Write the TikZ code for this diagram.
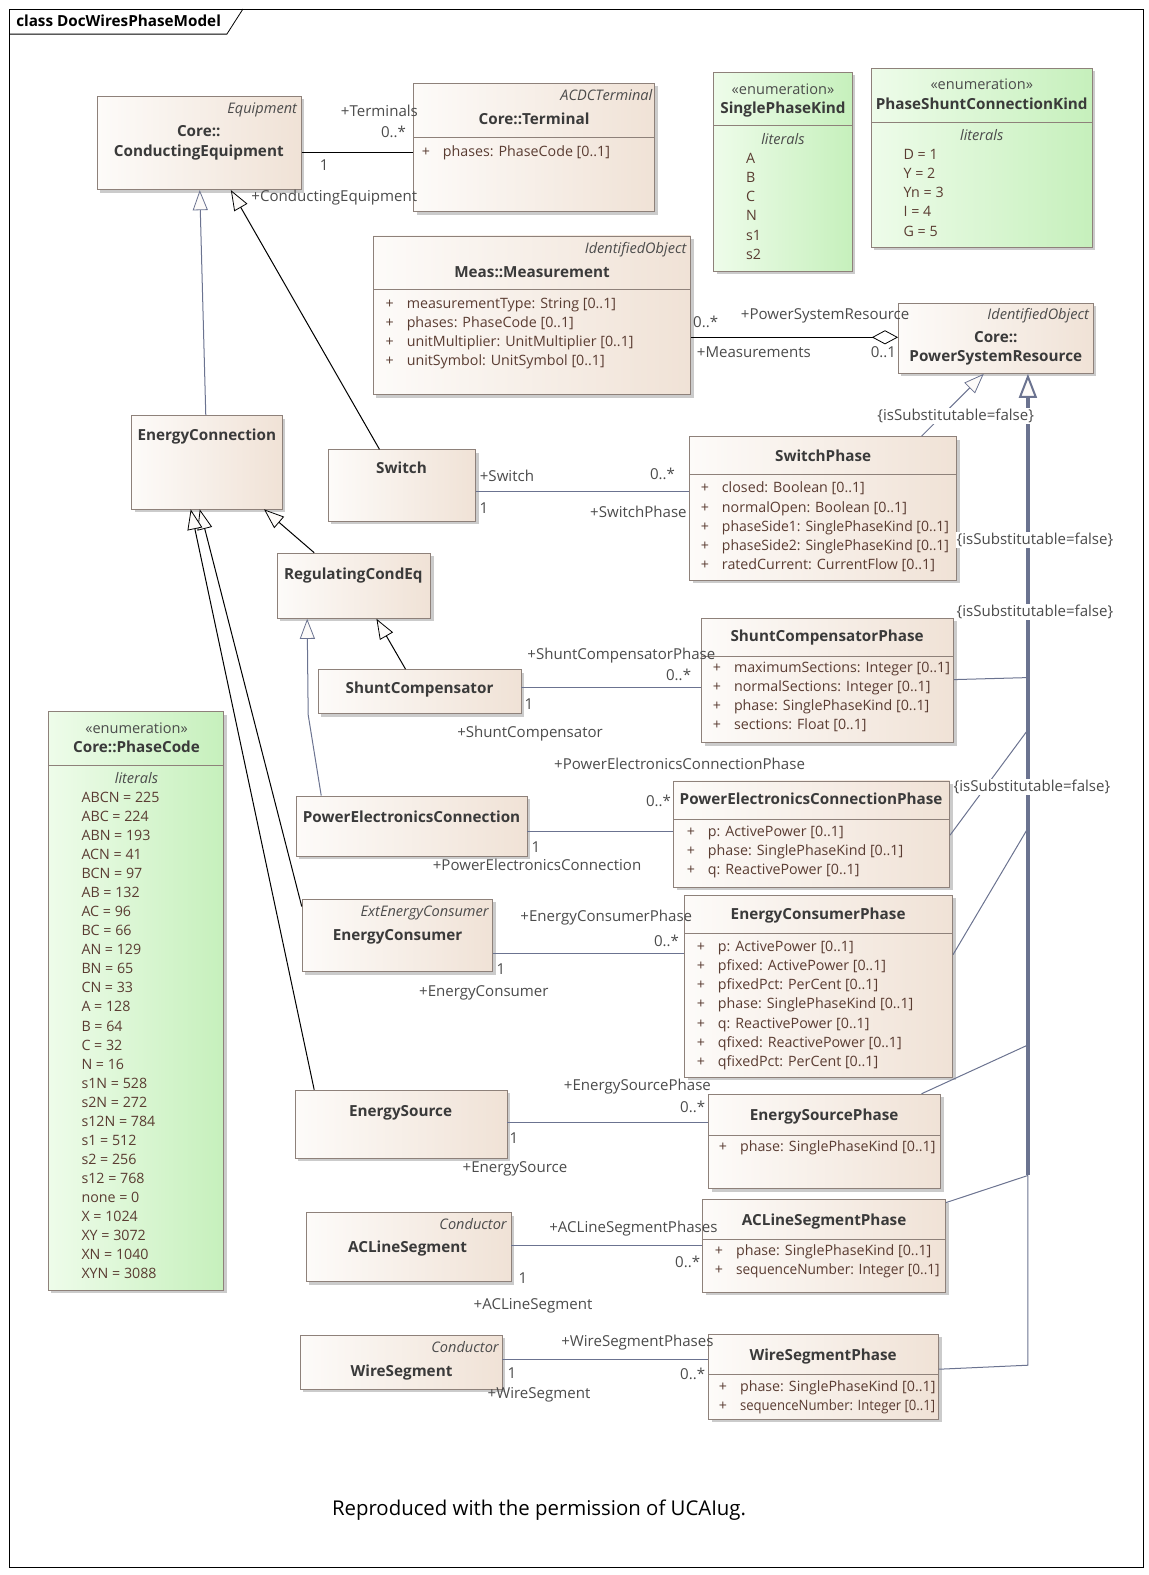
\documentclass[tikz,border=0pt]{standalone}
\usepackage{fontspec}
\setmainfont{Open Sans}
\usetikzlibrary{fit,shadows,arrows.meta}

\definecolor{clsleft}{HTML}{FDFBF9}
\definecolor{clsright}{HTML}{F0E2D6}
\definecolor{clsline}{HTML}{8E817A}
\definecolor{enumleft}{HTML}{EEFCEA}
\definecolor{enumright}{HTML}{C6F0BC}
\definecolor{nametext}{HTML}{3A3A3A}
\definecolor{attrtext}{HTML}{5A3C32}
\definecolor{roletext}{HTML}{4B4B4B}
\definecolor{wire}{HTML}{6B7390}

\tikzset{
  cls/.style={draw=clsline, line width=0.8pt, left color=clsleft, right color=clsright, inner sep=0pt,
    drop shadow={shadow xshift=3pt, shadow yshift=-3pt, fill=black!45, opacity=0.45}},
  enum/.style={cls, left color=enumleft, right color=enumright},
  cname/.style={font=\bfseries\fontsize{15.2}{18}\selectfont, text=nametext, inner sep=0pt, anchor=base, yshift=-0.7pt},
  stereo/.style={font=\itshape\fontsize{14.5}{17}\selectfont, text=roletext, inner sep=0pt, anchor=base east, yshift=-0.7pt},
  estereo/.style={font=\fontsize{14.5}{17}\selectfont, text=roletext, inner sep=0pt, anchor=base, yshift=-0.7pt},
  litlabel/.style={font=\itshape\fontsize{14.5}{17}\selectfont, text=roletext, inner sep=0pt, anchor=base, yshift=-0.7pt},
  attr/.style={font=\fontsize{14.2}{17}\selectfont, text=attrtext, inner sep=0pt, anchor=base west, yshift=-0.6pt},
  role/.style={font=\fontsize{15}{17}\selectfont, text=roletext, inner sep=0pt, anchor=base, yshift=-0.7pt},
  constraint/.style={role, fill=white, inner sep=1pt},
  sepline/.style={draw=clsline, line width=0.8pt},
  assoc/.style={draw=wire, line width=1pt},
  gen/.style={draw=#1, line width=1pt, -{Triangle[length=20pt, width=15pt, fill=clsleft, line width=0.8pt]}},
  gen/.default=black,
}

% attribute rows of a class, 19px apart
\newcommand{\classattrs}[4]{%
  \foreach \t [count=\i from 0] in {#4}
    \node[attr] (#1-a\i) at (#2, {#3+4.5+19*\i}) {\makebox[21pt][l]{+}\t};}
% literal rows of an enumeration
\newcommand{\enumlits}[4]{%
  \foreach \t [count=\i from 0] in {#4}
    \node[attr] (#1-l\i) at (#2, {#3+4.5+19*\i}) {\t};}
% squeezed text, as the tool draws long rows
\newcommand{\narrow}[2]{\scalebox{#1}[1]{#2}}

\begin{document}
\begin{tikzpicture}[x=1pt, y=-1pt]
\useasboundingbox (0,0) rectangle (1144.5,1569);

% frame
\draw[line width=0.8pt] (9,9) rectangle (1139,1561);
\draw[line width=0.8pt] (9,34) -- (226,34) -- (242,9);
\node[font=\bfseries\fontsize{15.2}{18}\selectfont, anchor=base west, inner sep=0pt] (title) at (16,26) {class DocWiresPhaseModel};

% classes
\node[cls, fit={(97,96) (300,189)}] (ce) {};
\node[stereo] (ce-st) at (296,112.5) {Equipment};
\node[cname] (ce-n1) at (198,135.5) {Core::};
\node[cname] (ce-n2) at (198,155.5) {ConductingEquipment};

\node[cls, fit={(412,83) (652,211)}] (term) {};
\node[stereo] (term-st) at (650,99.5) {ACDCTerminal};
\node[cname] (term-n) at (532,123.5) {Core::Terminal};
\draw[sepline] (term.west |- 0,137) -- (term.east |- 0,137);
\classattrs{term}{420}{151}{phases: PhaseCode [0..1]}

\node[enum, fit={(711,72) (849,270)}] (spk) {};
\node[estereo] (spk-st) at (780,93.5) {«enumeration»};
\node[cname] (spk-n) at (780,112.5) {SinglePhaseKind};
\draw[sepline] (spk.west |- 0,125) -- (spk.east |- 0,125);
\node[litlabel] (spk-lt) at (780,143.5) {literals};
\enumlits{spk}{743}{158}{A,B,C,N,s1,s2}

\node[enum, fit={(868,68) (1088,246)}] (psck) {};
\node[estereo] (psck-st) at (978,88.5) {«enumeration»};
\node[cname] (psck-n) at (978,108.5) {PhaseShuntConnectionKind};
\draw[sepline] (psck.west |- 0,122) -- (psck.east |- 0,122);
\node[litlabel] (psck-lt) at (978,139.5) {literals};
\enumlits{psck}{900}{154}{D = 1,Y = 2,Yn = 3,I = 4,G = 5}

\node[cls, fit={(372,235) (688,393)}] (meas) {};
\node[stereo] (meas-st) at (684,251.5) {IdentifiedObject};
\node[cname] (meas-n) at (530,275.5) {Meas::Measurement};
\draw[sepline] (meas.west |- 0,288) -- (meas.east |- 0,288);
\classattrs{meas}{384}{302}{measurementType: String [0..1],phases: PhaseCode [0..1],unitMultiplier: UnitMultiplier [0..1],unitSymbol: UnitSymbol [0..1]}

\node[cls, fit={(895,302) (1089,372)}] (psr) {};
\node[stereo] (psr-st) at (1085,317.5) {IdentifiedObject};
\node[cname] (psr-n1) at (992,340.5) {Core::};
\node[cname] (psr-n2) at (992,359.5) {PowerSystemResource};

\node[cls, fit={(131,414) (281,507)}] (econn) {};
\node[cname] (econn-n) at (206,438.5) {EnergyConnection};

\node[cls, fit={(327,448) (474,519)}] (sw) {};
\node[cname] (sw-n) at (400,470.5) {Switch};

\node[cls, fit={(687,435) (953,578)}] (swp) {};
\node[cname] (swp-n) at (820,459.5) {SwitchPhase};
\draw[sepline] (swp.west |- 0,473) -- (swp.east |- 0,473);
\classattrs{swp}{698}{486}{closed: Boolean [0..1],normalOpen: Boolean [0..1],\narrow{0.98}{phaseSide1: SinglePhaseKind [0..1]},\narrow{0.98}{phaseSide2: SinglePhaseKind [0..1]},ratedCurrent: CurrentFlow [0..1]}

\node[cls, fit={(276,551) (429,616)}] (rce) {};
\node[cname] (rce-n) at (352,576.5) {RegulatingCondEq};

\node[cls, fit={(317,667) (519,711)}] (shc) {};
\node[cname] (shc-n) at (418,690.5) {ShuntCompensator};

\node[cls, fit={(699,616) (950,740)}] (shcp) {};
\node[cname] (shcp-n) at (824,638.5) {ShuntCompensatorPhase};
\draw[sepline] (shcp.west |- 0,654) -- (shcp.east |- 0,654);
\classattrs{shcp}{710}{665}{maximumSections: Integer [0..1],normalSections: Integer [0..1],phase: SinglePhaseKind [0..1],sections: Float [0..1]}

\node[enum, fit={(48,709) (223,1285)}] (pc) {};
\node[estereo] (pc-st) at (136,729.5) {«enumeration»};
\node[cname] (pc-n) at (136,748.5) {Core::PhaseCode};
\draw[sepline] (pc.west |- 0,762) -- (pc.east |- 0,762);
\node[litlabel] (pc-lt) at (136,779.5) {literals};
\enumlits{pc}{81}{794}{ABCN = 225,ABC = 224,ABN = 193,ACN = 41,BCN = 97,AB = 132,AC = 96,BC = 66,AN = 129,BN = 65,CN = 33,A = 128,B = 64,C = 32,N = 16,s1N = 528,s2N = 272,s12N = 784,s1 = 512,s2 = 256,s12 = 768,none = 0,X = 1024,XY = 3072,XN = 1040,XYN = 3088}

\node[cls, fit={(295,793) (525,853)}] (pec) {};
\node[cname] (pec-n) at (410,818.5) {PowerElectronicsConnection};

\node[cls, fit={(671,778) (946,884)}] (pecp) {};
\node[cname] (pecp-n) at (808,800.5) {PowerElectronicsConnectionPhase};
\draw[sepline] (pecp.west |- 0,816) -- (pecp.east |- 0,816);
\classattrs{pecp}{684}{828}{p: ActivePower [0..1],phase: SinglePhaseKind [0..1],q: ReactivePower [0..1]}

\node[cls, fit={(301,896) (491,968)}] (econs) {};
\node[stereo] (econs-st) at (487,912.5) {ExtEnergyConsumer};
\node[cname] (econs-n) at (396,936.5) {EnergyConsumer};

\node[cls, fit={(682,892) (949,1073)}] (econsp) {};
\node[cname] (econsp-n) at (815,915.5) {EnergyConsumerPhase};
\draw[sepline] (econsp.west |- 0,930) -- (econsp.east |- 0,930);
\classattrs{econsp}{694}{943}{p: ActivePower [0..1],pfixed: ActivePower [0..1],pfixedPct: PerCent [0..1],phase: SinglePhaseKind [0..1],q: ReactivePower [0..1],qfixed: ReactivePower [0..1],qfixedPct: PerCent [0..1]}

\node[cls, fit={(294,1086) (505,1154)}] (es) {};
\node[cname] (es-n) at (399,1111.5) {EnergySource};

\node[cls, fit={(706,1090) (937,1184)}] (esp) {};
\node[cname] (esp-n) at (821,1115.5) {EnergySourcePhase};
\draw[sepline] (esp.west |- 0,1131) -- (esp.east |- 0,1131);
\classattrs{esp}{716}{1142}{phase: SinglePhaseKind [0..1]}

\node[cls, fit={(305,1208) (509,1277)}] (acls) {};
\node[stereo] (acls-st) at (505,1224.5) {Conductor};
\node[cname] (acls-n) at (406,1247.5) {ACLineSegment};

\node[cls, fit={(700,1195) (942,1287)}] (aclsp) {};
\node[cname] (aclsp-n) at (821,1220.5) {ACLineSegmentPhase};
\draw[sepline] (aclsp.west |- 0,1235) -- (aclsp.east |- 0,1235);
\classattrs{aclsp}{712}{1246}{phase: SinglePhaseKind [0..1],\narrow{0.96}{sequenceNumber: Integer [0..1]}}

\node[cls, fit={(299,1330) (500,1384)}] (ws) {};
\node[stereo] (ws-st) at (497,1346.5) {Conductor};
\node[cname] (ws-n) at (400,1370.5) {WireSegment};

\node[cls, fit={(706,1329) (935,1414)}] (wsp) {};
\node[cname] (wsp-n) at (820,1354.5) {WireSegmentPhase};
\draw[sepline] (wsp.west |- 0,1369) -- (wsp.east |- 0,1369);
\classattrs{wsp}{716}{1381}{phase: SinglePhaseKind [0..1],\narrow{0.92}{sequenceNumber: Integer [0..1]}}

% associations
\draw[assoc, draw=black, line width=1.2pt] (ce.east |- 0,152) -- (term.west |- 0,152);
\draw[assoc, draw=black, line width=1.2pt, -{Diamond[length=26pt, width=14pt, fill=white, line width=0.8pt]}] (meas.east |- 0,336) -- (psr.west |- 0,336);
\draw[assoc] (sw.east |- 0,490) -- (swp.west |- 0,490);
\draw[assoc] (shc.east |- 0,685) -- (shcp.west |- 0,685);
\draw[assoc] (pec.east |- 0,828) -- (pecp.west |- 0,828);
\draw[assoc] (econs.east |- 0,950) -- (econsp.west |- 0,950);
\draw[assoc] (es.east |- 0,1118) -- (esp.west |- 0,1118);
\draw[assoc] (acls.east |- 0,1241) -- (aclsp.west |- 0,1241);
\draw[assoc] (ws.east |- 0,1354) -- (wsp.west |- 0,1354);

% generalizations
\draw[gen=wire] (econn.north -| 205,0) -- (ce.south -| 199,0);
\draw[gen] (sw.north -| 378,0) -- (ce.south -| 230,0);
\draw[gen] (rce.north -| 313,0) -- (econn.south -| 263,0);
\draw[gen] (shc.north -| 404,0) -- (rce.south -| 375,0);
\draw[gen=wire] (pec.north -| 320,0) -- (307,712) -- (rce.south -| 306,0);
\draw[gen] (econs.west |- 0,903) -- (econn.south -| 199,0);
\draw[gen] (es.north -| 313,0) -- (econn.south -| 190,0);
\draw[gen=wire] (swp.north -| 918,0) -- (psr.south -| 980,0);

% phase classes into PowerSystemResource
\coordinate (trA) at (1024,1360);
\coordinate (trB) at (1024,1171);
\draw[assoc] (wsp.east |- 0,1364) -- (trA) -- (trB);
\draw[assoc] (aclsp.east |- 0,1198) -- (trB);
\draw[assoc] (esp.north -| 918,0) -- (1024,1041);
\draw[assoc] (econsp.east |- 0,951) -- (1024,825);
\draw[assoc] (pecp.east |- 0,832) -- (1024,727);
\draw[assoc] (shcp.east |- 0,677) -- (1024,675);
\draw[draw=wire, line width=3.5pt, -{Triangle[length=24pt, width=18pt, fill=clsleft, line width=2pt]}] (trB) -- (psr.south -| 1024,0);

% constraints
\node[constraint] (c1) at (952,418.5) {\{isSubstitutable=false\}};
\node[constraint] (c2) at (1031,541.5) {\{isSubstitutable=false\}};
\node[constraint] (c3) at (1031,613.5) {\{isSubstitutable=false\}};
\node[constraint] (c4) at (1028,787.5) {\{isSubstitutable=false\}};

% role names and multiplicities
\node[role] (r1) at (378,115.5) {+Terminals};
\node[role] (m1) at (392,136.5) {0..*};
\node[role] (m2) at (323,169.5) {1};
\node[role] (r2) at (333,200.5) {+ConductingEquipment};

\node[role] (m3) at (703,325.5) {0..*};
\node[role] (r3) at (822,317.5) {+PowerSystemResource};
\node[role] (r4) at (751,355.5) {+Measurements};
\node[role] (m4) at (880,355.5) {0..1};

\node[role] (r5) at (505,478.5) {+Switch};
\node[role] (m5) at (660,476.5) {0..*};
\node[role] (m6) at (482,510.5) {1};
\node[role] (r6) at (636,514.5) {+SwitchPhase};

\node[role] (r7) at (619,656.5) {+ShuntCompensatorPhase};
\node[role] (m7) at (676,677.5) {0..*};
\node[role] (m8) at (527,706.5) {1};
\node[role] (r8) at (528,733.5) {+ShuntCompensator};

\node[role] (r9) at (677,765.5) {+PowerElectronicsConnectionPhase};
\node[role] (m9) at (656,802.5) {0..*};
\node[role] (m10) at (534,848.5) {1};
\node[role] (r10) at (535,866.5) {+PowerElectronicsConnection};

\node[role] (r11) at (604,917.5) {+EnergyConsumerPhase};
\node[role] (m11) at (664,942.5) {0..*};
\node[role] (m12) at (499,970.5) {1};
\node[role] (r12) at (482,991.5) {+EnergyConsumer};

\node[role] (r13) at (635,1085.5) {+EnergySourcePhase};
\node[role] (m13) at (690,1107.5) {0..*};
\node[role] (m14) at (512,1138.5) {1};
\node[role] (r14) at (513,1167.5) {+EnergySource};

\node[role] (r15) at (631,1227.5) {+ACLineSegmentPhases};
\node[role] (m15) at (685,1261.5) {0..*};
\node[role] (m16) at (521,1277.5) {1};
\node[role] (r16) at (531,1303.5) {+ACLineSegment};

\node[role] (r17) at (635,1340.5) {+WireSegmentPhases};
\node[role] (m17) at (690,1373.5) {0..*};
\node[role] (m18) at (510,1372.5) {1};
\node[role] (r18) at (537,1392.5) {+WireSegment};

% caption
\node[font=\fontsize{20.3}{24}\selectfont, anchor=base, inner sep=0pt] (caption) at (537,1510) {Reproduced with the permission of UCAIug.};
\end{tikzpicture}
\end{document}
